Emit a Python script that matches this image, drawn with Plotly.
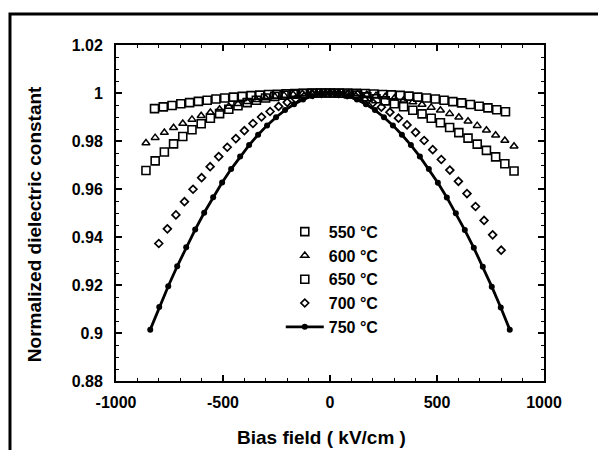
import plotly.graph_objects as go

# Bias field (kV/cm) and normalized dielectric constant for each annealing temperature
field_550 = [-820, -779, -738, -697, -656, -615, -574, -533, -492, -451, -410, -369, -328, -287,
             -246, -205, -164, -123, -82, -41, 0, 41, 82, 123, 164, 205, 246, 287, 328, 369,
             410, 451, 492, 533, 574, 615, 656, 697, 738, 779, 820]
eps_550 = [0.9935, 0.9942, 0.9948, 0.9955, 0.9960, 0.9965, 0.9970, 0.9975, 0.9979, 0.9983,
           0.9986, 0.9989, 0.9991, 0.9994, 0.9995, 0.9997, 0.9998, 0.9999, 1.0000, 1.0000,
           1.0000,
           1.0000, 1.0000, 0.9999, 0.9998, 0.9996, 0.9994, 0.9992, 0.9990, 0.9987, 0.9983,
           0.9979, 0.9975, 0.9970, 0.9964, 0.9959, 0.9952, 0.9945, 0.9938, 0.9930, 0.9922]

field_600 = [-860, -817, -774, -731, -688, -645, -602, -559, -516, -473, -430, -387, -344, -301,
             -258, -215, -172, -129, -86, -43, 0, 43, 86, 129, 172, 215, 258, 301, 344, 387,
             430, 473, 516, 559, 602, 645, 688, 731, 774, 817, 860]
eps_600 = [0.9792, 0.9814, 0.9835, 0.9855, 0.9873, 0.9890, 0.9905, 0.9919, 0.9932, 0.9944,
           0.9955, 0.9964, 0.9972, 0.9979, 0.9985, 0.9990, 0.9994, 0.9997, 0.9999, 1.0000,
           1.0000,
           1.0000, 0.9999, 0.9997, 0.9994, 0.9989, 0.9984, 0.9978, 0.9970, 0.9962, 0.9952,
           0.9940, 0.9928, 0.9914, 0.9899, 0.9882, 0.9864, 0.9845, 0.9824, 0.9802, 0.9778]

field_650 = [-860, -817, -774, -731, -688, -645, -602, -559, -516, -473, -430, -387, -344, -301,
             -258, -215, -172, -129, -86, -43, 0, 43, 86, 129, 172, 215, 258, 301, 344, 387,
             430, 473, 516, 559, 602, 645, 688, 731, 774, 817, 860]
eps_650 = [0.9677, 0.9717, 0.9754, 0.9788, 0.9819, 0.9847, 0.9872, 0.9895, 0.9914, 0.9932,
           0.9947, 0.9960, 0.9970, 0.9979, 0.9986, 0.9991, 0.9995, 0.9998, 0.9999, 1.0000,
           1.0000,
           0.9999, 0.9996, 0.9991, 0.9984, 0.9976, 0.9967, 0.9955, 0.9943, 0.9928, 0.9913,
           0.9895, 0.9876, 0.9856, 0.9835, 0.9812, 0.9787, 0.9761, 0.9734, 0.9705, 0.9675]

field_700 = [-800, -760, -720, -680, -640, -600, -560, -520, -480, -440, -400, -360, -320, -280,
             -240, -200, -160, -120, -80, -40, 0, 40, 80, 120, 160, 200, 240, 280, 320, 360,
             400, 440, 480, 520, 560, 600, 640, 680, 720, 760, 800]
eps_700 = [0.9373, 0.9434, 0.9492, 0.9547, 0.9599, 0.9647, 0.9693, 0.9735, 0.9774, 0.9810,
           0.9843, 0.9873, 0.9900, 0.9923, 0.9944, 0.9961, 0.9975, 0.9986, 0.9994, 0.9998,
           1.0000,
           0.9998, 0.9993, 0.9985, 0.9974, 0.9959, 0.9941, 0.9920, 0.9895, 0.9867, 0.9836,
           0.9802, 0.9764, 0.9723, 0.9679, 0.9632, 0.9581, 0.9527, 0.9469, 0.9409, 0.9345]

field_750 = [-840, -798, -756, -714, -672, -630, -588, -546, -504, -462, -420, -378, -336, -294,
             -252, -210, -168, -126, -84, -42, 0, 42, 84, 126, 168, 210, 252, 294, 336, 378,
             420, 462, 504, 546, 588, 630, 672, 714, 756, 798, 840]
eps_750 = [0.9014, 0.9108, 0.9195, 0.9278, 0.9357, 0.9431, 0.9501, 0.9566, 0.9627, 0.9683,
           0.9735, 0.9783, 0.9826, 0.9865, 0.9899, 0.9929, 0.9953, 0.9973, 0.9987, 0.9997,
           1.0000,
           0.9997, 0.9987, 0.9973, 0.9953, 0.9929, 0.9899, 0.9865, 0.9826, 0.9783, 0.9735,
           0.9683, 0.9626, 0.9565, 0.9499, 0.9429, 0.9355, 0.9276, 0.9193, 0.9106, 0.9014]

x_ticks = [-1000, -500, 0, 500, 1000]
x_tick_text = ["-1000", "-500", "0", "500", "1000"]
y_ticks = [0.88, 0.90, 0.92, 0.94, 0.96, 0.98, 1.00, 1.02]
y_tick_text = ["0.88", "0.9", "0.92", "0.94", "0.96", "0.98", "1", "1.02"]

FONT = "Liberation Sans"
INK = "black"

fig = go.Figure()

series = [
    ("550 °C", field_550, eps_550, "square-open", 8, 1.6),
    ("600 °C", field_600, eps_600, "triangle-up-open", 7, 1.5),
    ("650 °C", field_650, eps_650, "square-open", 8, 1.6),
    ("700 °C", field_700, eps_700, "diamond-open", 6, 1.7),
]
for name, xs, ys, sym, size, lw in series:
    fig.add_trace(go.Scatter(
        x=xs, y=ys, name=name, mode="markers",
        marker=dict(symbol=sym, size=size, color=INK, line=dict(color=INK, width=lw)),
    ))

fig.add_trace(go.Scatter(
    x=field_750, y=eps_750, name="750 °C", mode="lines+markers",
    line=dict(color=INK, width=2.8),
    marker=dict(symbol="circle", size=6, color=INK),
))

axis_common = dict(
    showline=True, linecolor=INK, linewidth=2, mirror="ticks",
    ticks="inside", ticklen=6, tickwidth=1.5, tickcolor=INK,
    showgrid=False, zeroline=False,
    tickfont=dict(family=FONT, size=16, color=INK, weight="bold"),
)

fig.update_xaxes(
    range=[-1000, 1000], tickmode="array", tickvals=x_ticks, ticktext=x_tick_text,
    minor=dict(dtick=100, ticks="inside", ticklen=3, tickwidth=1.2, tickcolor=INK),
    ticklabelstandoff=6,
    **axis_common,
)
fig.update_yaxes(
    range=[0.88, 1.02], tickmode="array", tickvals=y_ticks, ticktext=y_tick_text,
    minor=dict(dtick=0.005, ticks="inside", ticklen=3, tickwidth=1.2, tickcolor=INK),
    ticklabelstandoff=8,
    **axis_common,
)

fig.update_layout(
    width=598, height=450,
    margin=dict(l=116, r=54, t=45, b=69),
    paper_bgcolor="white", plot_bgcolor="white",
    showlegend=True,
    legend=dict(
        x=0.385, y=0.495, xanchor="left", yanchor="top",
        bgcolor="rgba(0,0,0,0)", borderwidth=0,
        font=dict(family=FONT, size=16, color=INK, weight="bold"),
        itemsizing="trace", itemwidth=38,
    ),
    annotations=[
        dict(text="Normalized dielectric constant", xref="paper", yref="paper",
             x=-0.1915, y=0.467, xanchor="center", yanchor="middle",
             textangle=-90, showarrow=False,
             font=dict(family=FONT, size=19, color=INK, weight="bold")),
        dict(text="Bias field ( kV/cm )", xref="paper", yref="paper",
             x=0.479, y=-0.167, xanchor="center", yanchor="middle", showarrow=False,
             font=dict(family=FONT, size=19, color=INK, weight="bold")),
    ],
    shapes=[
        dict(type="rect", xref="paper", yref="paper",
             x0=-0.2477, x1=1.25, y0=-0.30, y1=1.0923,
             line=dict(color=INK, width=3), fillcolor="rgba(0,0,0,0)"),
    ],
)

fig.write_html("out.html")
